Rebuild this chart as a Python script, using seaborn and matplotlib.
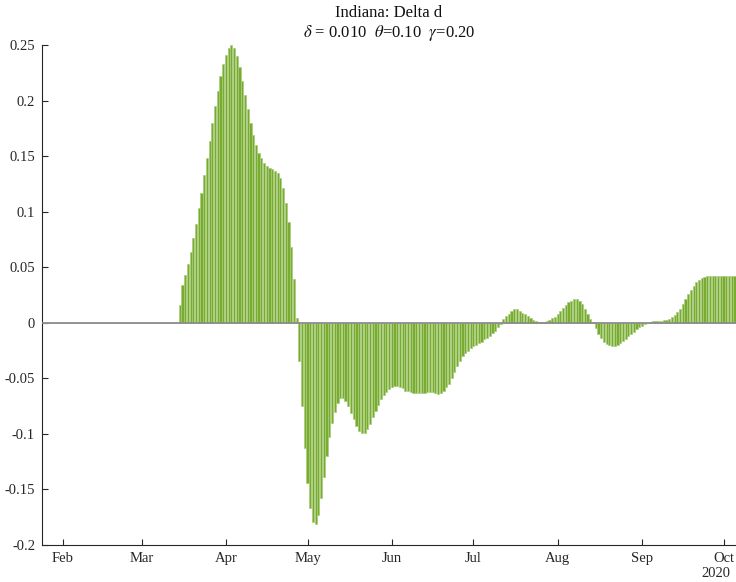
import numpy as np
import pandas as pd
import seaborn as sns
import matplotlib.pyplot as plt
import matplotlib.dates as mdates
from matplotlib.ticker import FixedLocator, FuncFormatter

# daily "Delta d" values, Indiana 2020
series_start = "2020-01-22"
flat_start_days = 53          # Jan 22 .. Mar 14, all zero
rise_apr = [0.016, 0.034, 0.043, 0.053, 0.064, 0.076, 0.089, 0.103, 0.117, 0.133,
            0.148, 0.164, 0.180, 0.195, 0.209, 0.222, 0.233, 0.241, 0.247, 0.250,
            0.247, 0.240, 0.230, 0.218, 0.205, 0.192, 0.180, 0.169, 0.160, 0.153,
            0.148, 0.144, 0.141, 0.139, 0.138, 0.137, 0.135, 0.130, 0.121, 0.108,
            0.091, 0.068, 0.039, 0.004]
dip_may_jul = [-0.034, -0.075, -0.113, -0.144, -0.167, -0.179, -0.181, -0.173, -0.158, -0.139,
               -0.120, -0.103, -0.090, -0.080, -0.072, -0.068, -0.068, -0.070, -0.075, -0.081,
               -0.087, -0.093, -0.097, -0.099, -0.099, -0.096, -0.091, -0.085, -0.079, -0.074,
               -0.069, -0.065, -0.062, -0.060, -0.058, -0.057, -0.057, -0.058, -0.059, -0.061,
               -0.061, -0.062, -0.063, -0.063, -0.063, -0.063, -0.063, -0.062,
               -0.062, -0.062, -0.063, -0.064, -0.063, -0.061, -0.058, -0.055, -0.050, -0.044,
               -0.039, -0.034, -0.030, -0.027, -0.025, -0.023, -0.021, -0.020, -0.018, -0.017,
               -0.015, -0.014, -0.012, -0.009, -0.007, -0.004, -0.001]
humps_jul_aug = [0.003, 0.006, 0.008, 0.0105, 0.012, 0.012, 0.0105, 0.009, 0.0075, 0.0057,
                 0.004, 0.0027, 0.0015, 0.0009, 0.0009, 0.0009, 0.0015, 0.0027, 0.004, 0.005,
                 0.0075, 0.0105, 0.013, 0.016, 0.0186, 0.020, 0.021, 0.021, 0.0195, 0.0165,
                 0.0126, 0.008, 0.0036, 0.0006]
dip_sep = [-0.005, -0.010, -0.0135, -0.017, -0.019, -0.020, -0.021, -0.021, -0.020, -0.018,
           -0.016, -0.0145, -0.012, -0.010, -0.008, -0.006, -0.004, -0.0025, -0.001]
rise_oct = [0.0001, 0.0003, 0.0012, 0.0018, 0.0018, 0.0018, 0.0021, 0.0027, 0.0036, 0.0051,
            0.0069, 0.0093, 0.0123, 0.0165, 0.021, 0.0256, 0.0295, 0.0334, 0.0364, 0.0388,
            0.0406, 0.0415, 0.0418, 0.0418, 0.0418, 0.0418, 0.0418, 0.0418, 0.0418, 0.0418,
            0.0418, 0.0418, 0.0418]

y_ticks = [-0.2, -0.15, -0.1, -0.05, 0, 0.05, 0.1, 0.15, 0.2, 0.25]
title_text = "Indiana: Delta d\n$\\delta$ = 0.010  $\\theta$=0.10  $\\gamma$=0.20"

values = np.concatenate([np.zeros(flat_start_days), rise_apr, dip_may_jul,
                         humps_jul_aug, dip_sep, rise_oct])
dates = pd.date_range(series_start, periods=len(values), freq="D")
df = pd.DataFrame({"day": mdates.date2num(dates), "delta_d": values})

sns.set_style("ticks")
plt.rcParams["font.family"] = ["Liberation Serif", "DejaVu Serif"]
plt.rcParams["mathtext.fontset"] = "stix"

fig = plt.figure(figsize=(7.36, 5.82), dpi=100)
ax = fig.add_axes([0.057, 0.0636, 0.943, 0.859])

# thin light edges fill the gaps between the daily bars, like the reference
sns.barplot(data=df, x="day", y="delta_d", native_scale=True, width=0.8,
            color="#77AC30", saturation=1, edgecolor="#a9cc7c", linewidth=0.5,
            errorbar=None, ax=ax)
ax.axhline(0, color="#8c8c8c", lw=1.3, zorder=3)

ax.set_xlim(mdates.date2num(pd.Timestamp("2020-01-24 08:00")),
            mdates.date2num(pd.Timestamp("2020-10-05 14:00")))
ax.set_ylim(-0.2, 0.25)
ax.xaxis.set_major_locator(mdates.MonthLocator())
ax.xaxis.set_major_formatter(mdates.DateFormatter("%b"))
ax.yaxis.set_major_locator(FixedLocator(y_ticks))
ax.yaxis.set_major_formatter(FuncFormatter(lambda v, p: f"{v:g}" if abs(v) > 1e-9 else "0"))

ax.tick_params(direction="in", length=4, width=0.8, labelsize=10.5,
               colors="#262626", pad=5)
ax.set_xlabel("")
ax.set_ylabel("")
for side in ["top", "right"]:
    ax.spines[side].set_visible(False)
for side in ["left", "bottom"]:
    ax.spines[side].set_color("#262626")
    ax.spines[side].set_linewidth(0.8)

ax.set_title(title_text, fontsize=12, color="#111111", pad=6, linespacing=1.1)
ax.text(0.992, -0.044, "2020", transform=ax.transAxes, ha="right", va="top",
        fontsize=10.5, color="#262626")

fig.savefig("out.png", dpi=100)
